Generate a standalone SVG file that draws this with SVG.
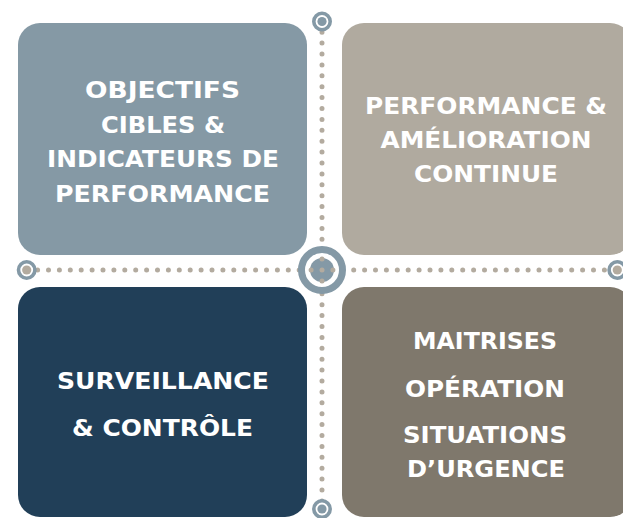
<svg xmlns="http://www.w3.org/2000/svg" width="623" height="518" viewBox="0 0 623 518">
  <style>
    .lbl { font-family: "DejaVu Sans", "Liberation Sans", sans-serif; font-weight: bold; font-size: 23px; fill: #ffffff; text-anchor: middle; }
    .dots { stroke: #b3ab9f; stroke-width: 5; stroke-linecap: round; stroke-dasharray: 0 10.9; fill: none; }
    .ring { fill: none; stroke: #8499a6; }
    .core { fill: #8499a6; }
    .dot { fill: #b3ab9f; }
  </style>

  <rect width="623" height="518" fill="#ffffff"/>

  <!-- dotted axes and target markers -->
  <g id="connectors">
    <line class="dots" x1="26.7" y1="270" x2="617.3" y2="270"/>
    <line class="dots" x1="322" y1="21.3" x2="322" y2="509.2"/>

    <!-- central target -->
    <circle cx="322" cy="270" r="17" fill="#ffffff"/>
    <circle class="ring" cx="322" cy="270" r="20.5" stroke-width="7"/>
    <circle class="core" cx="322" cy="270" r="12"/>
    <circle class="dot" cx="322" cy="270" r="2.5"/>
    <circle class="dot" cx="311.1" cy="270" r="2.5"/>
    <circle class="dot" cx="332.9" cy="270" r="2.5"/>
    <circle class="dot" cx="322" cy="259.1" r="2.5"/>
    <circle class="dot" cx="322" cy="280.9" r="2.5"/>

    <!-- end targets -->
    <circle cx="26.7" cy="270" r="8" fill="#ffffff"/>
    <circle class="ring" cx="26.7" cy="270" r="8.2" stroke-width="3.6"/>
    <circle class="dot" cx="26.7" cy="270" r="4.6"/>

    <circle cx="617.3" cy="270" r="8" fill="#ffffff"/>
    <circle class="ring" cx="617.3" cy="270" r="8.2" stroke-width="3.6"/>
    <circle class="dot" cx="617.3" cy="270" r="4.6"/>

    <circle cx="322" cy="21.5" r="8" fill="#ffffff"/>
    <circle class="ring" cx="322" cy="21.5" r="8.2" stroke-width="3.6"/>
    <circle class="core" cx="322" cy="21.5" r="4.6"/>

    <circle cx="322" cy="509" r="8" fill="#ffffff"/>
    <circle class="ring" cx="322" cy="509" r="8.2" stroke-width="3.6"/>
    <circle class="core" cx="322" cy="509" r="4.6"/>
  </g>

  <g id="objectifs">
    <rect x="18" y="23" width="289" height="232" rx="22" fill="#8599a5"/>
    <text class="lbl" x="162.5" y="98.3" textLength="155" lengthAdjust="spacingAndGlyphs">OBJECTIFS</text>
    <text class="lbl" x="163" y="133" textLength="124" lengthAdjust="spacingAndGlyphs">CIBLES &amp;</text>
    <text class="lbl" x="163" y="167" textLength="232" lengthAdjust="spacingAndGlyphs">INDICATEURS DE</text>
    <text class="lbl" x="162.5" y="201.5" textLength="215" lengthAdjust="spacingAndGlyphs">PERFORMANCE</text>
  </g>

  <g id="amelioration">
    <rect x="342" y="23" width="290" height="232" rx="22" fill="#b0aa9f"/>
    <text class="lbl" x="486" y="113.5" textLength="242" lengthAdjust="spacingAndGlyphs">PERFORMANCE &amp;</text>
    <text class="lbl" x="486" y="148" textLength="211" lengthAdjust="spacingAndGlyphs">AMÉLIORATION</text>
    <text class="lbl" x="486" y="182" textLength="144" lengthAdjust="spacingAndGlyphs">CONTINUE</text>
  </g>

  <g id="surveillance">
    <rect x="18" y="287" width="289" height="230" rx="22" fill="#213f58"/>
    <text class="lbl" x="163" y="389.3" textLength="212" lengthAdjust="spacingAndGlyphs">SURVEILLANCE</text>
    <text class="lbl" x="162.5" y="436" textLength="181" lengthAdjust="spacingAndGlyphs">&amp; CONTRÔLE</text>
  </g>

  <g id="maitrises">
    <rect x="342" y="287" width="290" height="230" rx="22" fill="#7f786c"/>
    <text class="lbl" x="485" y="349.3" textLength="144" lengthAdjust="spacingAndGlyphs">MAITRISES</text>
    <text class="lbl" x="485" y="397" textLength="160" lengthAdjust="spacingAndGlyphs">OPÉRATION</text>
    <text class="lbl" x="485" y="443" textLength="164" lengthAdjust="spacingAndGlyphs">SITUATIONS</text>
    <text class="lbl" x="486" y="476.7" textLength="158" lengthAdjust="spacingAndGlyphs">D’URGENCE</text>
  </g>
</svg>
